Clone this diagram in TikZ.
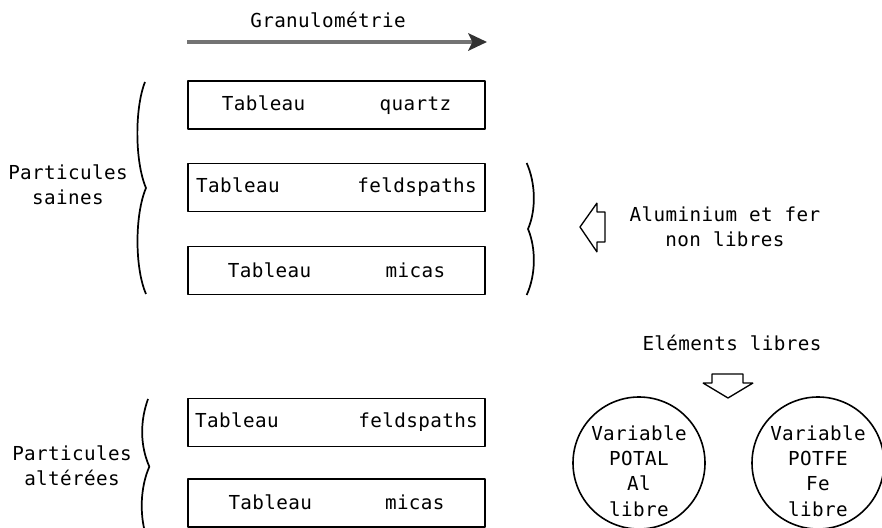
\documentclass[tikz,border=0pt]{standalone}
\usepackage{fontspec}
\usepackage{tikz}
\usetikzlibrary{arrows.meta}
\newfontfamily\typew{DejaVu Sans Mono}[LetterSpace=2]

\begin{document}
\begin{tikzpicture}[>=Stealth,line join=bevel,
  every node/.style={font=\typew\fontsize{14.5}{19}\selectfont,align=center},
  tabbox/.style={draw,rectangle,line width=1.3pt,minimum width=222.75bp,minimum height=36bp,inner sep=0pt},
  rond/.style={draw,circle,line width=1.2pt,minimum size=99bp,inner sep=0pt},
  creux/.style={draw,line width=1pt,fill=white},
  accol/.style={line width=1.3pt}]
%%
\useasboundingbox (0bp,0bp) rectangle (661.5bp,396bp);
\node (G) at (246bp,381bp) {Granulom\'etrie};
\coordinate (g0) at (140.25bp,364.5bp);
\coordinate (g1) at (365.25bp,364.5bp);
\draw [black!55,line width=3.5pt,-{Stealth[length=14pt,width=13pt,inset=3pt,color=black!80]}] (g0) -- (g1);
%
\node (A) at (252.4bp,317.25bp) [tabbox] {Tableau\hspace{56pt}quartz};
\node (B) at (252.4bp,255.4bp) [tabbox] {Tableau\hspace{58.5pt}feldspaths};
\node (C) at (252.4bp,193.1bp) [tabbox] {Tableau\hspace{56pt}micas};
\node (D) at (252.4bp,79.1bp) [tabbox] {Tableau\hspace{60pt}feldspaths};
\node (E) at (252.4bp,19bp) [tabbox] {Tableau\hspace{55pt}micas};
%
\node (S) at (51bp,257.25bp) {Particules\\saines};
\node (T) at (54bp,46.5bp) {Particules\\alt\'er\'ees};
\draw [accol] (108.75bp,334.5bp) .. controls (101bp,315bp) and (101bp,275bp) .. (109.5bp,255bp)
  .. controls (101bp,235bp) and (101bp,195bp) .. (109.5bp,175.5bp);
\draw [accol] (111bp,96.75bp) .. controls (105bp,80bp) and (105bp,62bp) .. (112bp,46bp)
  .. controls (105bp,30bp) and (105bp,10bp) .. (109bp,-4bp);
\draw [accol] (395bp,273.75bp) .. controls (402bp,258bp) and (402bp,238bp) .. (396bp,224.25bp)
  .. controls (402bp,210bp) and (402bp,190bp) .. (395bp,174.75bp);
%
\draw [creux] (435bp,225.75bp) -- (447.75bp,243.75bp) -- (447.75bp,237bp) -- (453.75bp,237bp)
  -- (453.75bp,214.5bp) -- (447.75bp,214.5bp) -- (447.75bp,207bp) -- cycle;
\node (F) at (543.75bp,226bp) {Aluminium et fer\\non libres};
%
\node (L) at (549bp,138.75bp) {El\'ements libres};
\draw [creux] (546bp,97.5bp) -- (527.25bp,108.75bp) -- (534bp,108.75bp) -- (534bp,115.5bp)
  -- (557.25bp,115.5bp) -- (557.25bp,108.75bp) -- (564.75bp,108.75bp) -- cycle;
%
\node (P) at (479.25bp,48.75bp) [rond] {};
\node (Q) at (613.5bp,48.75bp) [rond] {};
\node (p) at (479.25bp,42.75bp) {Variable\\POTAL\\Al\\libre};
\node (q) at (613.5bp,42.75bp) {Variable\\POTFE\\Fe\\libre};
%
\end{tikzpicture}
\end{document}
